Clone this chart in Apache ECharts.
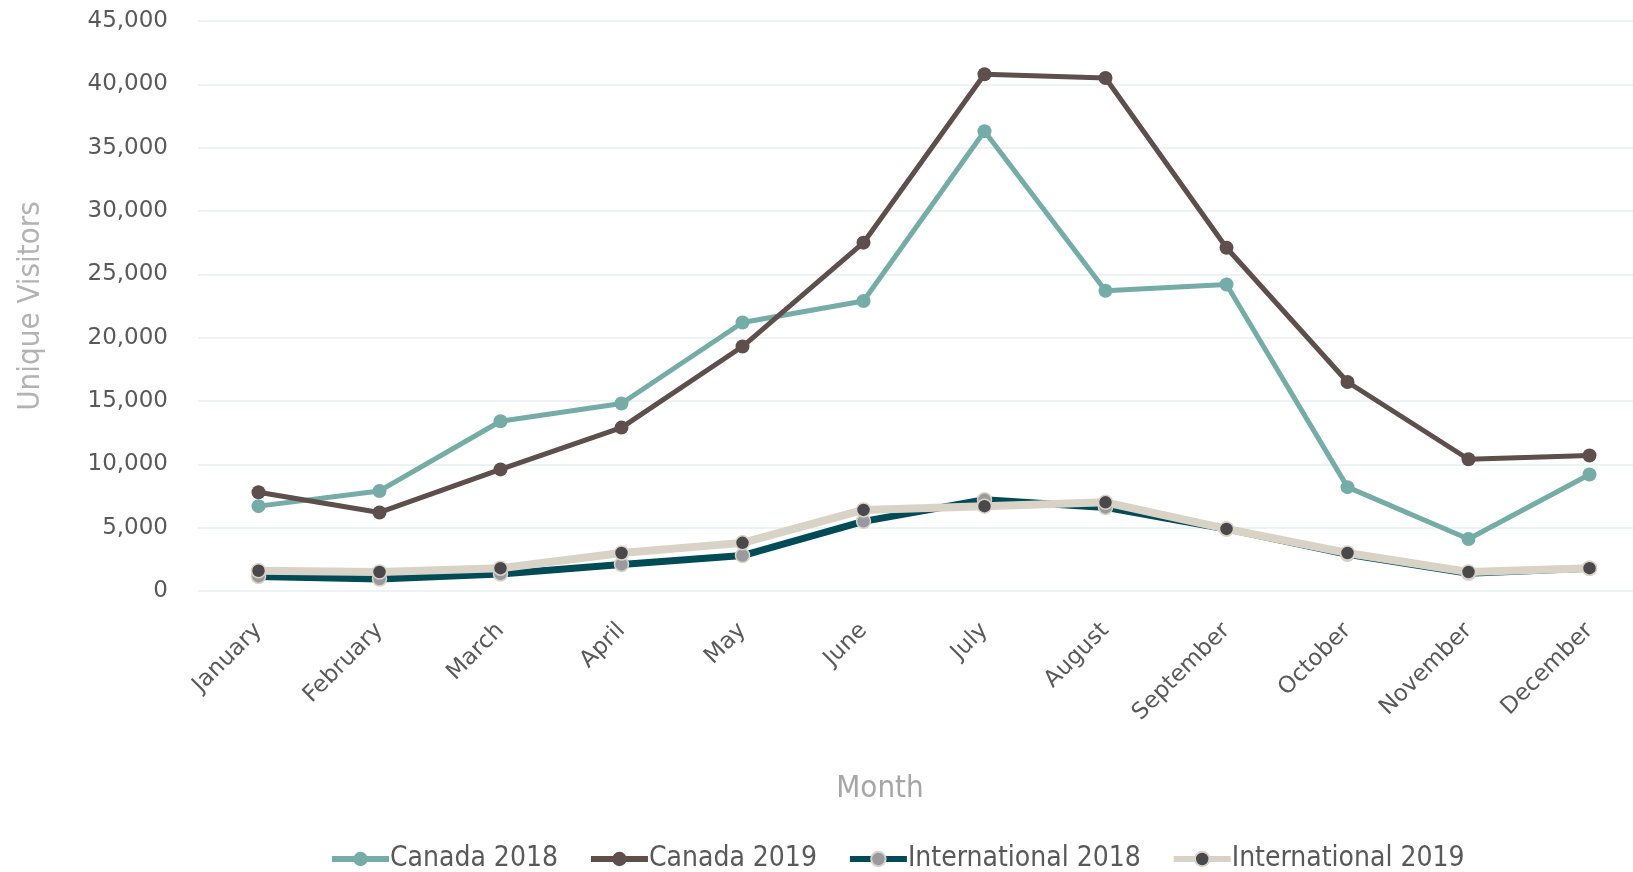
<!DOCTYPE html>
<html>
<head>
<meta charset="utf-8">
<script src="https://cdn.jsdelivr.net/npm/echarts@6/dist/echarts.min.js"></script>
<style>
  html, body { margin: 0; padding: 0; background: #fff; }
  #main { width: 1633px; height: 872px; }
</style>
</head>
<body>
<div id="main"></div>
<script>
const months = ['January', 'February', 'March', 'April', 'May', 'June', 'July', 'August', 'September', 'October', 'November', 'December'];
const canada2018 = [6700, 7900, 13400, 14800, 21200, 22900, 36300, 23700, 24200, 8200, 4100, 9200];
const canada2019 = [7800, 6200, 9600, 12900, 19300, 27500, 40800, 40500, 27100, 16500, 10400, 10700];
const intl2018 = [1150, 950, 1350, 2100, 2800, 5500, 7200, 6600, 4900, 2900, 1400, 1800];
const intl2019 = [1600, 1500, 1800, 3000, 3800, 6400, 6700, 7000, 4900, 3000, 1500, 1800];

const tickFont = '"DejaVu Sans", sans-serif';
const thinFont = '"Liberation Sans Narrow", "DejaVu Sans Condensed", sans-serif';

const chart = echarts.init(document.getElementById('main'));

chart.setOption({
  animation: false,
  grid: {
    left: 198,
    right: -17,
    top: 21,
    bottom: 281,
    containLabel: false,
    outerBoundsMode: 'none'
  },
  legend: {
    bottom: -6,
    left: 324,
    itemWidth: 57,
    itemHeight: 18,
    itemGap: 30,
    lineStyle: { width: 6 },
    textStyle: {
      fontFamily: thinFont,
      fontSize: 28,
      color: '#595959',
      padding: [0, 0, 0, -4]
    },
    data: ['Canada 2018', 'Canada 2019', 'International 2018', 'International 2019']
  },
  xAxis: {
    type: 'category',
    data: months,
    boundaryGap: true,
    name: 'Month',
    nameLocation: 'middle',
    nameGap: 182,
    nameTextStyle: {
      fontFamily: thinFont,
      fontSize: 31,
      color: '#a6a6a6',
      padding: [0, 88, 0, 0]
    },
    axisLine: { show: false },
    axisTick: { show: false },
    axisLabel: {
      rotate: 45,
      margin: 36,
      fontFamily: tickFont,
      fontSize: 23,
      color: '#595959'
    }
  },
  yAxis: {
    type: 'value',
    min: 0,
    max: 45000,
    interval: 5000,
    name: 'Unique Visitors',
    nameLocation: 'middle',
    nameGap: 152,
    nameTextStyle: {
      fontFamily: thinFont,
      fontSize: 31,
      color: '#b3b3b3'
    },
    axisLabel: {
      margin: 30,
      fontFamily: tickFont,
      fontSize: 23,
      color: '#595959',
      formatter: v => v.toLocaleString('en-US')
    },
    splitLine: {
      lineStyle: { color: '#e7efee', width: 1.5 }
    }
  },
  series: [{
    name: 'Canada 2018',
    type: 'line',
    data: canada2018,
    symbol: 'circle',
    symbolSize: 14,
    lineStyle: { color: '#75aca8', width: 5 },
    itemStyle: { color: '#75aca8' }
  }, {
    name: 'Canada 2019',
    type: 'line',
    data: canada2019,
    symbol: 'circle',
    symbolSize: 14,
    lineStyle: { color: '#5e4e4c', width: 5 },
    itemStyle: { color: '#5e4e4c' }
  }, {
    name: 'International 2018',
    type: 'line',
    data: intl2018,
    symbol: 'circle',
    symbolSize: 14,
    lineStyle: { color: '#004b55', width: 7 },
    itemStyle: { color: '#9a9a9e', borderColor: '#d9d3c7', borderWidth: 1.5 }
  }, {
    name: 'International 2019',
    type: 'line',
    data: intl2019,
    symbol: 'circle',
    symbolSize: 14,
    lineStyle: { color: '#d9d3c7', width: 8 },
    itemStyle: { color: '#4a484b', borderColor: '#d9d3c7', borderWidth: 1.5 }
  }]
});
</script>
</body>
</html>
